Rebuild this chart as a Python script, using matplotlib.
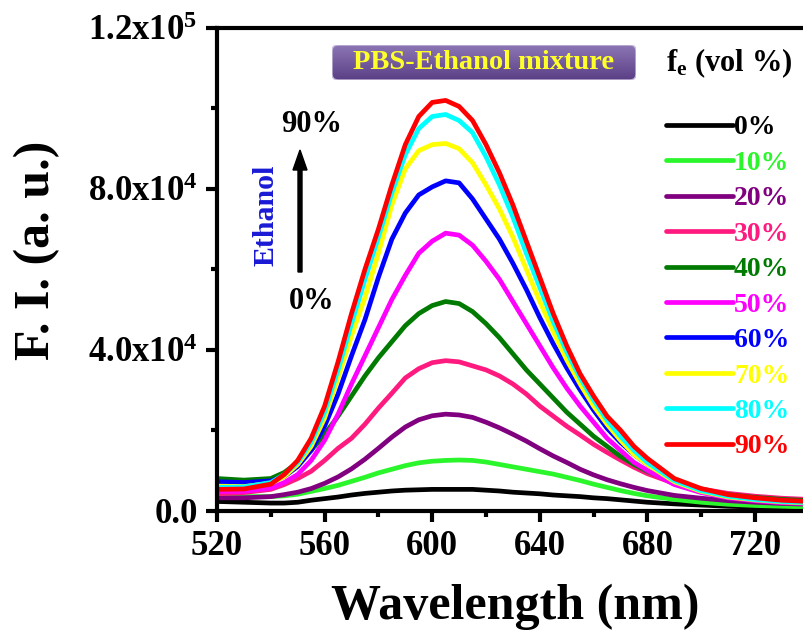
import numpy as np
import matplotlib
matplotlib.use("Agg")
import matplotlib.pyplot as plt
from matplotlib.patches import FancyBboxPatch, FancyArrow
from matplotlib.colors import LinearSegmentedColormap

plt.rcParams['font.family'] = ['Liberation Serif', 'DejaVu Serif']
plt.rcParams['font.weight'] = 'bold'
plt.rcParams['mathtext.fontset'] = 'custom'
plt.rcParams['mathtext.rm'] = 'Liberation Serif:bold'
plt.rcParams['mathtext.it'] = 'Liberation Serif:bold'
plt.rcParams['mathtext.bf'] = 'Liberation Serif:bold'

# wavelength grid (nm)
wl = [520, 530, 540, 545, 550, 555, 560, 565, 570, 575, 580, 585, 590, 595,
      600, 605, 610, 615, 620, 625, 630, 635, 640, 645, 650, 655, 660, 665,
      670, 675, 680, 690, 700, 710, 720, 730, 740]

# fluorescence intensity, in thousands (a.u.)
fi_0 = [2.3, 2.1, 1.9, 1.9, 2.1, 2.6, 3.0, 3.4, 3.9, 4.3, 4.6, 4.9, 5.1, 5.2,
        5.3, 5.3, 5.3, 5.3, 5.1, 4.9, 4.6, 4.4, 4.2, 3.9, 3.7, 3.5, 3.2, 3.0,
        2.7, 2.4, 2.1, 1.7, 1.4, 1.1, 0.9, 0.8, 0.7]
fi_10 = [3.6, 3.5, 3.5, 3.7, 4.1, 4.8, 5.5, 6.3, 7.3, 8.3, 9.4, 10.3, 11.2, 11.9,
         12.3, 12.5, 12.6, 12.5, 12.1, 11.5, 10.9, 10.3, 9.7, 9.1, 8.3, 7.5, 6.6, 5.8,
         5.0, 4.3, 3.7, 2.8, 2.1, 1.6, 1.3, 1.1, 0.9]
fi_20 = [3.2, 3.2, 3.5, 4.0, 4.6, 5.5, 6.8, 8.4, 10.4, 12.8, 15.5, 18.3, 20.8, 22.6,
         23.6, 24.0, 23.8, 23.2, 22.0, 20.6, 19.0, 17.3, 15.4, 13.6, 12.0, 10.3, 8.9, 7.7,
         6.7, 5.8, 5.0, 3.8, 3.1, 2.5, 2.1, 1.8, 1.6]
fi_30 = [4.2, 4.5, 5.3, 6.5, 8.0, 9.8, 12.5, 15.5, 18.0, 21.5, 25.5, 29.2, 33.0, 35.3,
         36.8, 37.3, 37.0, 36.0, 35.0, 33.5, 31.5, 29.0, 26.0, 23.5, 21.0, 18.8, 16.5, 14.5,
         12.6, 10.8, 9.2, 6.8, 5.4, 4.3, 3.6, 3.1, 2.8]
fi_40 = [8.0, 7.6, 8.0, 9.5, 12.0, 15.0, 19.0, 23.5, 28.5, 33.5, 38.0, 42.0, 46.0, 49.0,
         51.0, 52.0, 51.5, 49.5, 46.5, 43.0, 39.0, 35.0, 31.5, 28.0, 24.5, 21.5, 18.5, 16.0,
         13.5, 11.5, 9.8, 7.0, 5.2, 4.0, 3.3, 2.8, 2.5]
fi_50 = [4.8, 4.8, 5.6, 7.0, 9.0, 12.5, 17.5, 24.0, 31.5, 38.5, 45.5, 52.5, 58.5, 64.0,
         67.0, 69.0, 68.5, 66.0, 62.0, 57.5, 52.0, 46.5, 41.0, 35.5, 30.5, 26.0, 22.0, 18.0,
         15.0, 12.0, 10.0, 6.5, 4.5, 3.2, 2.5, 2.0, 1.8]
fi_60 = [7.2, 7.0, 7.4, 8.5, 11.0, 15.0, 21.0, 29.0, 38.5, 47.5, 58.0, 67.5, 74.0, 78.5,
         80.5, 82.0, 81.5, 77.5, 72.5, 67.5, 61.5, 55.0, 48.0, 41.5, 35.5, 30.0, 25.0, 20.5,
         17.0, 14.0, 11.5, 7.5, 5.0, 3.6, 2.8, 2.3, 2.0]
fi_70 = [6.1, 6.0, 6.8, 8.5, 11.5, 16.0, 23.0, 33.0, 43.5, 53.0, 64.0, 76.0, 85.0, 89.5,
         91.0, 91.3, 90.0, 86.5, 81.0, 75.0, 68.0, 60.0, 52.0, 44.5, 37.5, 31.5, 26.0, 21.5,
         17.5, 14.0, 11.5, 7.2, 4.8, 3.4, 2.7, 2.2, 1.9]
fi_80 = [5.8, 5.9, 7.0, 9.0, 12.0, 17.0, 24.5, 35.0, 46.5, 57.5, 68.0, 79.0, 88.5, 95.0,
         98.0, 98.5, 97.0, 94.0, 88.0, 81.0, 73.0, 64.0, 55.5, 47.0, 39.5, 33.0, 27.5, 22.5,
         18.5, 15.0, 12.0, 7.5, 5.0, 3.6, 2.8, 2.3, 2.0]
fi_90 = [5.3, 5.4, 6.6, 9.0, 12.5, 18.0, 26.0, 37.0, 49.0, 60.0, 70.0, 81.0, 91.0, 98.0,
         101.5, 102.0, 100.5, 97.0, 91.0, 84.0, 76.0, 67.0, 58.0, 49.0, 41.0, 34.0, 28.5, 23.5,
         20.0, 16.0, 13.0, 8.0, 5.5, 4.0, 3.2, 2.6, 2.3]

series = [fi_0, fi_10, fi_20, fi_30, fi_40, fi_50, fi_60, fi_70, fi_80, fi_90]
labels = ['0%', '10%', '20%', '30%', '40%', '50%', '60%', '70%', '80%', '90%']
colors = ['#000000', '#2bf52b', '#800080', '#ff1a80', '#007a00',
          '#ff00ff', '#0000ff', '#ffff00', '#00ffff', '#ff0000']

W, H = 804, 631
fig = plt.figure(figsize=(W / 100, H / 100), dpi=100)

# axes box in pixels: left 217, bottom 510.7, top 28; 2.69 px per nm
left, bottom, top = 217, 510.7, 28
xmin, xmax = 520, 740
ax = fig.add_axes([left / W, 1 - bottom / H, (xmax - xmin) * 2.69 / W, (bottom - top) / H])

for y, c, lab in zip(series, colors, labels):
    ax.plot(wl, np.array(y) * 1000, color=c, lw=3.4, label=lab,
            solid_capstyle='round', solid_joinstyle='round')

ax.set_xlim(xmin, xmax)
ax.set_ylim(0, 1.2e5)
ax.set_xticks([520, 560, 600, 640, 680, 720])
ax.set_xticks([540, 580, 620, 660, 700, 740], minor=True)
ax.set_yticks([0, 4e4, 8e4, 1.2e5])
ax.set_yticks([2e4, 6e4, 1e5], minor=True)
ax.set_yticklabels(['0.0', '4.0x10$^{4}$', '8.0x10$^{4}$', '1.2x10$^{5}$'])
for s in ax.spines.values():
    s.set_linewidth(3)
ax.tick_params(which='major', direction='out', length=8, width=3, labelsize=25, pad=6)
ax.tick_params(which='minor', direction='out', length=4.5, width=3)

fig.text(515 / W, 1 - 607 / H, 'Wavelength (nm)', fontsize=36, fontweight='bold',
         ha='center', va='center')
fig.text(37 / W, 1 - 250 / H, 'F. I. (a. u.)', fontsize=36, fontweight='bold',
         ha='center', va='center', rotation=90)

# legend
fig.legend(loc='upper left', bbox_to_anchor=(666 / W, 1 - 115 / H), frameon=False,
           prop={'size': 20, 'weight': 'bold'}, labelcolor='linecolor',
           handlelength=2.4, handletextpad=0.05, labelspacing=0.36,
           borderpad=0, borderaxespad=0)
fig.text(729 / W, 1 - 63 / H, 'f$_{e}$ (vol %)', fontsize=22, fontweight='bold',
         ha='center', va='center')

# title box with purple gradient
bx0, by0, bx1, by1 = 332, 45, 636, 80
bax = fig.add_axes([bx0 / W, 1 - by1 / H, (bx1 - bx0) / W, (by1 - by0) / H])
bax.set_xlim(0, 1)
bax.set_ylim(0, 1)
bax.axis('off')
grad = np.linspace(0, 1, 64).reshape(-1, 1)
cmap = LinearSegmentedColormap.from_list('pb', ['#5b3f86', '#8c76b4'])
im = bax.imshow(grad, extent=(0, 1, 0, 1), cmap=cmap, aspect='auto', origin='lower')
box = FancyBboxPatch((0, 0), 1, 1, boxstyle='round,pad=0,rounding_size=0.02',
                     transform=bax.transAxes, facecolor='none', edgecolor='#c9bedc', lw=1,
                     mutation_aspect=8.7)
bax.add_patch(box)
im.set_clip_path(box)
bax.text(0.5, 0.5, 'PBS-Ethanol mixture', color='#ffff2a', fontsize=20.5,
         fontweight='bold', ha='center', va='center')

# arrow and annotation
fig.patches.append(FancyArrow(
    300 / W, 1 - 272 / H, 0, (272 - 150) / H, width=4 / W, head_width=14 / W,
    head_length=20 / H, length_includes_head=True, color='black',
    transform=fig.transFigure, figure=fig))
fig.text(312 / W, 1 - 125 / H, '90%', fontsize=22, fontweight='bold', ha='center', va='center')
fig.text(312 / W, 1 - 302 / H, '0%', fontsize=22, fontweight='bold', ha='center', va='center')
fig.text(266 / W, 1 - 215 / H, 'Ethanol', fontsize=21.5, fontweight='bold', color='#1a1ad6',
         rotation=90, ha='center', va='center')

fig.savefig('out.png', dpi=100)
